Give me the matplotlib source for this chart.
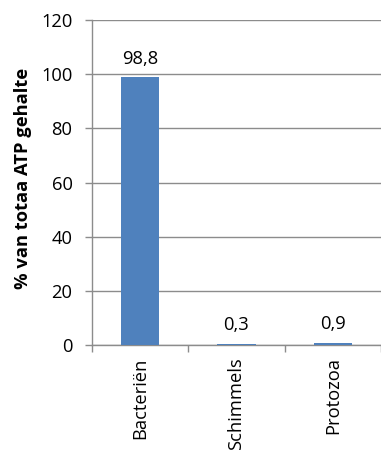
import matplotlib
matplotlib.use("Agg")
import matplotlib.pyplot as plt

categories = ["Bacteriën", "Schimmels", "Protozoa"]
values = [98.8, 0.3, 0.9]
value_labels = ["98,8", "0,3", "0,9"]
yticks = [0, 20, 40, 60, 80, 100, 120]

plt.rcParams['font.family'] = ['Open Sans', 'DejaVu Sans']
FS = 13.2

fig = plt.figure(figsize=(3.81, 4.5), dpi=100)
ax = fig.add_axes([92 / 381, 1 - 345 / 450, 289 / 381, 325 / 450])

x = list(range(len(categories)))
ax.bar(x, values, width=0.4, color="#4F81BD", zorder=3)

for xi, v, lab in zip(x, values, value_labels):
    ax.annotate(lab, (xi, v), xytext=(0, 7), textcoords="offset points",
                ha="center", va="bottom", fontsize=FS, color="#000000")

ax.set_xlim(-0.5, len(categories) - 0.5)
ax.set_ylim(0, 120)
ax.set_yticks(yticks)
ax.set_yticklabels([str(t) for t in yticks], fontsize=FS)
ax.yaxis.grid(True, color="#8C8C8C", linewidth=1.0, zorder=0)
ax.set_axisbelow(True)

ax.set_xticks(x)
ax.set_xticklabels(categories, rotation=90, fontsize=FS)
ax.set_xticks([i - 0.5 for i in range(len(categories) + 1)], minor=True)
ax.tick_params(axis="x", which="major", length=0, pad=9)
ax.tick_params(axis="x", which="minor", length=5, color="#8C8C8C", width=1)
ax.tick_params(axis="y", length=5, color="#8C8C8C", width=1, pad=9)

for side in ["top", "right"]:
    ax.spines[side].set_visible(False)
for side in ["left", "bottom"]:
    ax.spines[side].set_color("#8C8C8C")
    ax.spines[side].set_linewidth(1.0)

ax.set_ylabel("% van totaa ATP gehalte", fontsize=FS, fontweight="bold")
ax.yaxis.set_label_coords(-0.208, 0.514)

fig.savefig("out.png", dpi=100)
